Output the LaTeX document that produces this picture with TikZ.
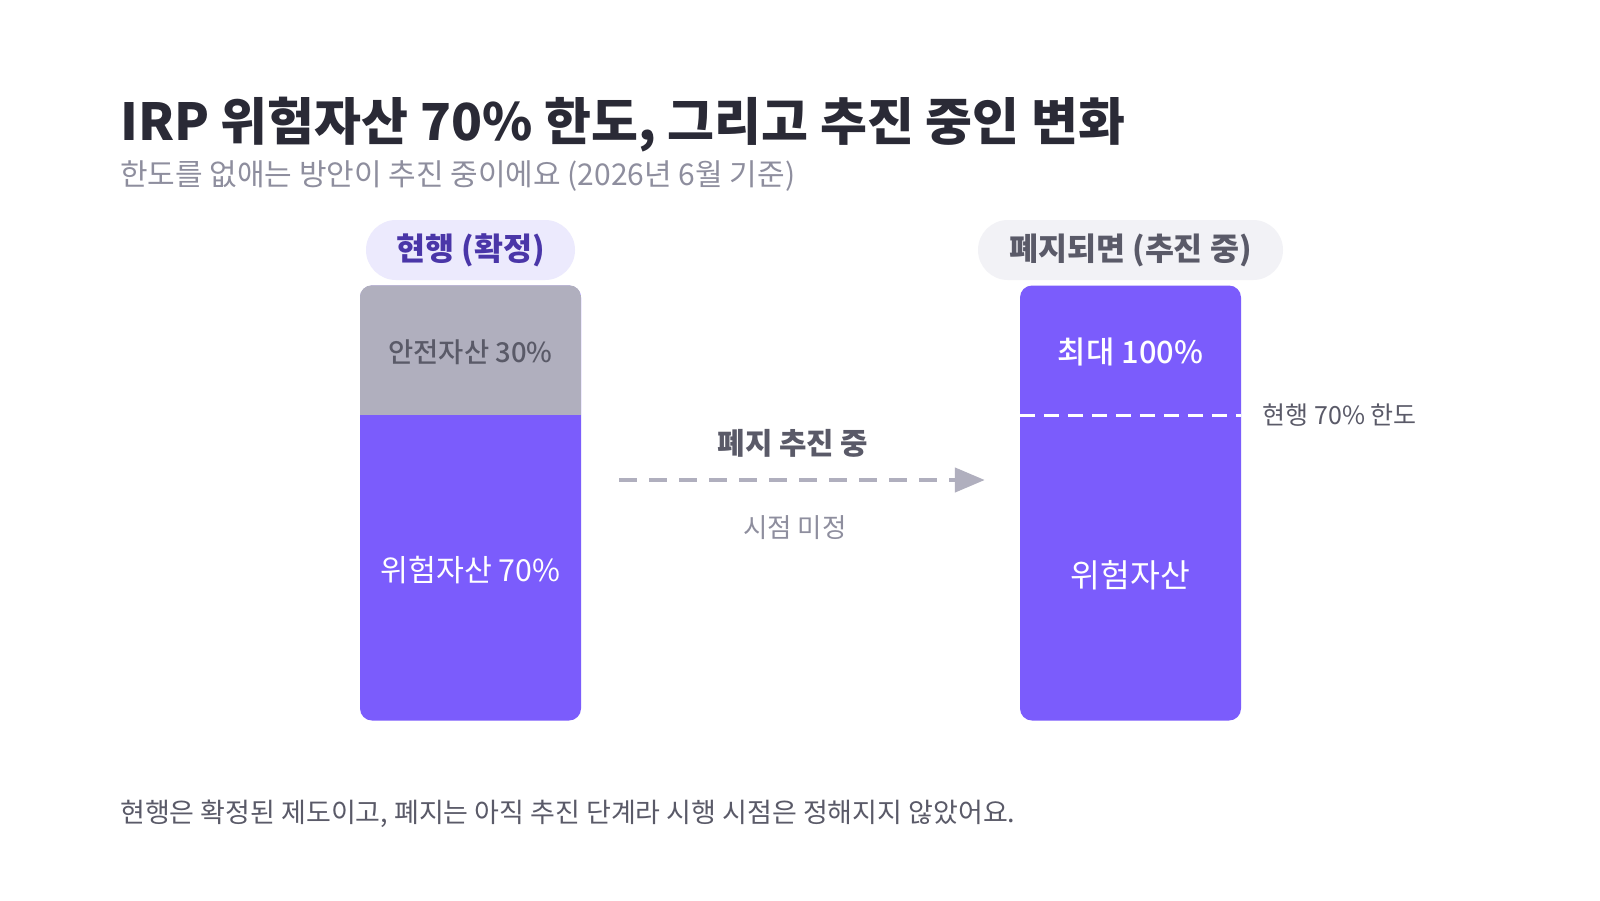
\documentclass[tikz,border=0pt]{standalone}
\usepackage{fontspec}
\setmainfont{Noto Sans CJK KR}
\IfFontExistsTF{Noto Sans CJK KR Medium}
  {\newfontfamily\medfont{Noto Sans CJK KR Medium}}
  {\newfontfamily\medfont{Noto Sans CJK KR}}
\usetikzlibrary{arrows.meta}
\definecolor{riskpurple}{HTML}{7B5CFC}
\definecolor{safegray}{HTML}{B0AFBE}
\definecolor{titleink}{HTML}{2A2A36}
\definecolor{softink}{HTML}{8E8E9E}
\definecolor{bodyink}{HTML}{5A5A68}
\definecolor{nowfill}{HTML}{ECEAFD}
\definecolor{nowink}{HTML}{4A36A8}
\definecolor{nextfill}{HTML}{F2F2F6}
\newcommand\fsz[1]{\fontsize{#1}{#1}\selectfont}
\tikzset{>={Triangle[length=30pt,width=24pt]}}
\tikzset{
  pill/.style={rounded corners=30pt, minimum height=60pt, inner sep=0pt, font=\fsz{31.5}\bfseries},
  bar/.style={fill=riskpurple, rounded corners=12pt, minimum width=221pt, minimum height=435pt, inner sep=0pt},
  flow/.style={->, safegray, line width=4.5pt, dash pattern=on 18pt off 12pt},
  limitline/.style={white, line width=3pt, dash pattern=on 15pt off 9pt}
}

\begin{document}
\begin{tikzpicture}[x=1pt,y=-1pt]
\useasboundingbox (0,0) rectangle (1600,900);
\fill[white] (0,0) rectangle (1600,900);

% heading
\node[anchor=base west, inner sep=0pt, text=titleink, font=\fsz{51}\bfseries] (title) at (120,140)
  {IRP 위험자산 70\% 한도, 그리고 추진 중인 변화};
\node[anchor=base west, inner sep=0pt, text=softink, font=\fsz{30}] (subtitle) at (120,185)
  {한도를 없애는 방안이 추진 중이에요 (2026년 6월 기준)};

% current rule
\node[pill, fill=nowfill, text=nowink, minimum width=209pt] (nowtag) at (470.5,250) {현행 (확정)};
\node[bar] (nowbar) at (470.5,503) {};
\coordinate (nowcut) at (470.5,415);
\begin{scope}
\clip[rounded corners=12pt] (nowbar.north west) rectangle (nowbar.south east);
\fill[safegray] (nowbar.north west) rectangle (nowbar.east |- nowcut);
\end{scope}
\node[text=bodyink, font=\fsz{27.4}\medfont] (safenow) at (470.5,352) {안전자산 30\%};
\node[text=white, font=\fsz{30.3}] (risknow) at (470.5,570) {위험자산 70\%};

% after abolition
\node[pill, fill=nextfill, text=bodyink, minimum width=305pt] (nexttag) at (1130.5,250) {폐지되면 (추진 중)};
\node[bar] (newbar) at (1130.5,503) {};
\coordinate (newcut) at (1130.5,415);
\draw[limitline] (newbar.west |- newcut) -- (newbar.east |- newcut);
\node[text=white, font=\fsz{30.8}\medfont] (maxnew) at (1130.5,352) {최대 100\%};
\node[text=white, font=\fsz{32.4}] (risknew) at (1130.5,575) {위험자산};
\node[anchor=west, text=bodyink, font=\fsz{25}] (limitlabel) at ([xshift=18pt]newbar.east |- newcut) {현행 70\% 한도};

% transition
\coordinate (mid) at (800,480);
\draw[flow, shorten <=38pt, shorten >=35pt] (nowbar.east |- mid) -- (newbar.west |- mid);
\node[text=bodyink, font=\fsz{29.8}\bfseries] (pending) at (793,443) {폐지 추진 중};
\node[text=softink, font=\fsz{26.5}] (undecided) at (795,528) {시점 미정};

% note
\node[anchor=base west, inner sep=0pt, text=bodyink, font=\fsz{27}] (note) at (120,822)
  {현행은 확정된 제도이고, 폐지는 아직 추진 단계라 시행 시점은 정해지지 않았어요.};
\end{tikzpicture}
\end{document}
